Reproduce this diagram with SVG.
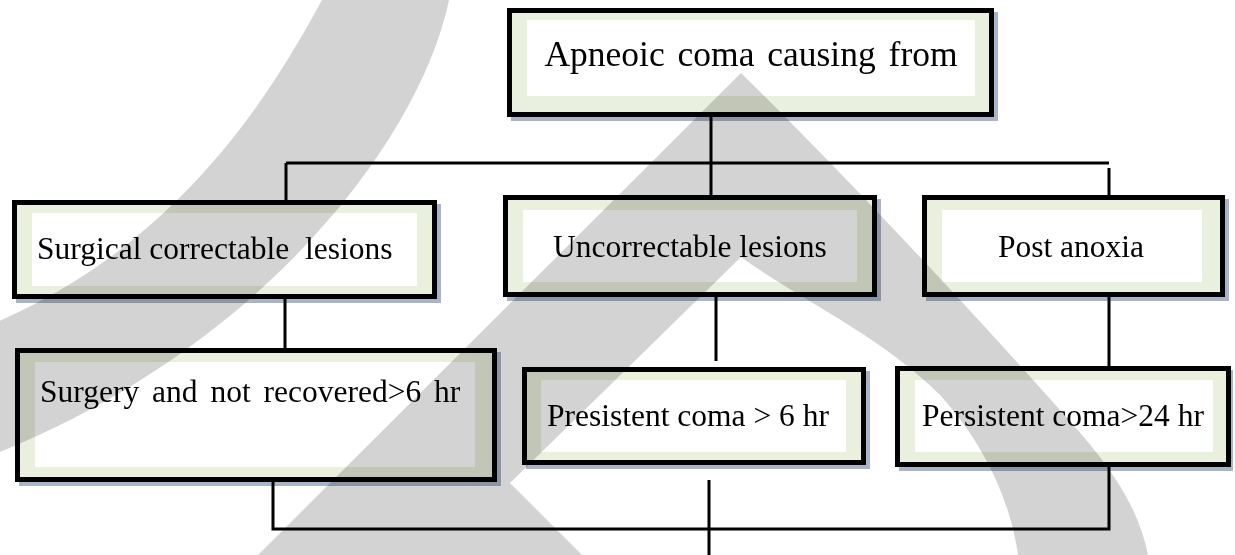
<svg xmlns="http://www.w3.org/2000/svg" width="1235" height="555" viewBox="0 0 1235 555">
<style>
.shadow{fill:#a9b4c9}
.frame{fill:#e9f0dd;stroke:#000;stroke-width:5}
.inner{fill:#fff}
.t{font-family:"Liberation Serif","Times New Roman",serif;font-size:31.5px;fill:#000;white-space:pre}
.c{fill:none;stroke:#000;stroke-width:3}
.wm{fill:#d3d3d3;mix-blend-mode:multiply}
</style>
<rect width="1235" height="555" fill="#fff"/>
<g id="n-top">
<rect class="shadow" x="511" y="12" width="487" height="109"/>
<rect class="frame" x="509.5" y="10.5" width="482" height="104"/>
<rect class="inner" x="527" y="20" width="448" height="76"/>
<text class="t" x="751" y="66" text-anchor="middle" style="font-size:35.5px;word-spacing:4px">Apneoic coma causing from</text>
</g>
<g id="n-surgical">
<rect class="shadow" x="16" y="204" width="425" height="99"/>
<rect class="frame" x="14.5" y="202.5" width="420" height="94"/>
<rect class="inner" x="32" y="213" width="385" height="73"/>
<text class="t" x="37" y="259">Surgical correctable  lesions</text>
</g>
<g id="n-uncorrectable">
<rect class="shadow" x="507" y="199" width="374" height="102"/>
<rect class="frame" x="505.5" y="197.5" width="369" height="97"/>
<rect class="inner" x="523" y="210" width="334" height="72"/>
<text class="t" x="690" y="257" text-anchor="middle">Uncorrectable lesions</text>
</g>
<g id="n-post">
<rect class="shadow" x="926" y="199" width="303" height="102"/>
<rect class="frame" x="924.5" y="197.5" width="298" height="97"/>
<rect class="inner" x="942" y="210" width="260" height="72"/>
<text class="t" x="1071" y="257" text-anchor="middle">Post anoxia</text>
</g>
<g id="n-surgery">
<rect class="shadow" x="19" y="352" width="482" height="134"/>
<rect class="frame" x="17.5" y="350.5" width="477" height="129"/>
<rect class="inner" x="35" y="362" width="440" height="105"/>
<text class="t" x="40" y="402" style="word-spacing:5px">Surgery and not recovered&gt;6 hr</text>
</g>
<g id="n-presistent">
<rect class="shadow" x="526" y="371" width="344" height="98"/>
<rect class="frame" x="524.5" y="369.5" width="339" height="93"/>
<rect class="inner" x="541" y="380" width="305" height="72"/>
<text class="t" x="547" y="426">Presistent coma &gt; 6 hr</text>
</g>
<g id="n-persistent">
<rect class="shadow" x="899" y="370" width="334" height="101"/>
<rect class="frame" x="897.5" y="368.5" width="331" height="96"/>
<rect class="inner" x="915" y="380" width="298" height="72"/>
<text class="t" x="922" y="426">Persistent coma&gt;24 hr</text>
</g>
<g id="connectors">
<path class="c" d="M711 117V195"/>
<path class="c" d="M286 163H1109"/>
<path class="c" d="M286 163V200"/>
<path class="c" d="M1109 168V195"/>
<path class="c" d="M285 299V348"/>
<path class="c" d="M716 297V361"/>
<path class="c" d="M1109 297V366"/>
<path class="c" d="M273 482V529H1109V467"/>
<path class="c" d="M709 480V555"/>
</g>
<g id="watermark">
<path class="wm" d="M322 0L449 0C420 140 260 350 -10 456L-10 325C180 245 270 95 322 0Z"/>
<path class="wm" d="M741 73C850 180 980 320 1060 410C1110 465 1138 505 1148 555L1018 555C1012 510 990 450 940 395C880 335 800 300 741 257L510 483L582 555L258 555Z"/>
</g>
</svg>
